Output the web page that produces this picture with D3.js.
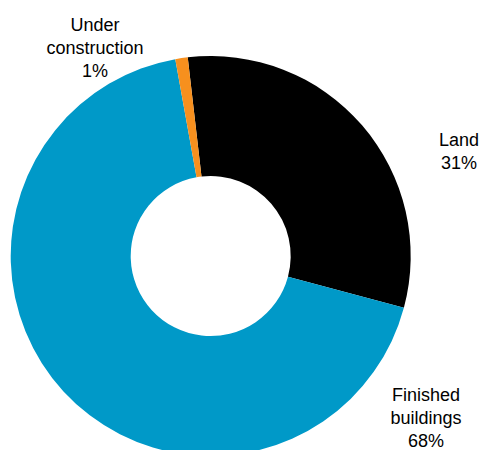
<!DOCTYPE html>
<html>
<head>
	<title> donut </title>
	<script src="https://d3js.org/d3.v7.min.js"></script>
	<style>
		body { margin: 0; background: #fff; }
		text { font-family: "Liberation Sans", Arial, sans-serif; font-size: 18px; fill: #000; }
	</style>
</head>
<body>
	<svg width="483" height="450"></svg>
	<script type="text/javascript">
		// chart data
		let categories = ["Land", "Finished buildings", "Under construction"];
		let labelLines = [["Land"], ["Finished", "buildings"], ["Under", "construction"]];
		let values = [31, 68, 1];
		let colorSet = ["#000000", "#0099c8", "#f7901e"];

		let svg = d3.select("svg");
		const cx = 210.7, cy = 256;
		const outerR = 200, innerR = 80;
		// first slice begins a little left of 12 o'clock
		const start = -6.6 * Math.PI / 180;

		let pie = d3.pie().sort(null).startAngle(start).endAngle(start + 2 * Math.PI);
		let arc = d3.arc().innerRadius(innerR).outerRadius(outerR);

		let g = svg.append("g").attr("transform", "translate(" + cx + "," + cy + ")");
		g.selectAll("path")
			.data(pie(values))
			.join("path")
			.attr("fill", (d, i) => colorSet[i])
			.attr("d", arc);

		// label anchors (first baseline of each block), relative to the page
		let labelAt = [[459, 145.7], [426, 401], [95, 31]];
		const lineH = 23;
		labelLines.forEach(function(lines, i) {
			let t = svg.append("text")
				.attr("text-anchor", "middle")
				.attr("x", labelAt[i][0])
				.attr("y", labelAt[i][1]);
			let all = lines.concat([values[i] + "%"]);
			all.forEach(function(s, k) {
				t.append("tspan")
					.attr("x", labelAt[i][0])
					.attr("dy", k == 0 ? 0 : lineH)
					.text(s);
			});
		});
	</script>
</body>
</html>
